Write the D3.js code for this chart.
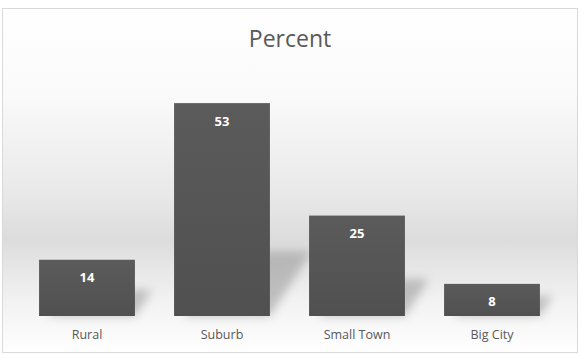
<!DOCTYPE html>
<html>
<head>
<meta charset="utf-8">
<script src="https://cdn.jsdelivr.net/npm/d3@7"></script>
<style>
  body { margin: 0; background: #fff; }
  svg { display: block; }
</style>
</head>
<body>
<div id="chart"></div>
<script>
// Percent by community type
const categories = ["Rural", "Suburb", "Small Town", "Big City"];
const percents = [14, 53, 25, 8];
const chartTitle = "Percent";

const W = 582, H = 354;
const frame = { left: 2, top: 8, right: 577, bottom: 352 };
const margin = { left: 19.5, right: 22.5, top: 75, bottom: 38 };
const baseY = H - margin.bottom;

const svg = d3.select("#chart").append("svg")
    .attr("width", W)
    .attr("height", H);

const defs = svg.append("defs");

// background "floor" gradient
const bg = defs.append("linearGradient")
    .attr("id", "bgGrad")
    .attr("x1", 0).attr("y1", 0).attr("x2", 0).attr("y2", 1);
[[0, "#ffffff"], [0.25, "#fafafa"], [0.55, "#e8e8e8"], [0.67, "#dcdcdc"], [0.85, "#f2f2f2"], [1, "#ffffff"]]
    .forEach(([o, c]) => bg.append("stop").attr("offset", o).attr("stop-color", c));

const barGrad = defs.append("linearGradient")
    .attr("id", "barGrad")
    .attr("x1", 0).attr("y1", 0).attr("x2", 0).attr("y2", 1);
barGrad.append("stop").attr("offset", 0).attr("stop-color", "#5b5b5b");
barGrad.append("stop").attr("offset", 1).attr("stop-color", "#505050");

defs.append("filter")
    .attr("id", "blur")
    .attr("x", "-50%").attr("y", "-50%").attr("width", "200%").attr("height", "200%")
    .append("feGaussianBlur")
    .attr("stdDeviation", 5);

svg.append("rect")
    .attr("x", frame.left + 0.5)
    .attr("y", frame.top + 0.5)
    .attr("width", frame.right - frame.left)
    .attr("height", frame.bottom - frame.top)
    .attr("fill", "url(#bgGrad)")
    .attr("stroke", "#d9d9d9")
    .attr("stroke-width", 1);

// title
svg.append("text")
    .attr("x", 290)
    .attr("y", 47)
    .attr("text-anchor", "middle")
    .attr("font-family", "'Open Sans', sans-serif")
    .attr("font-size", 23)
    .attr("fill", "#595959")
    .text(chartTitle);

const x = d3.scaleBand()
    .domain(categories)
    .range([margin.left, W - margin.right])
    .paddingInner(0.29)
    .paddingOuter(0.145);

const y = d3.scaleLinear()
    .domain([0, 60])
    .range([baseY, margin.top]);

const data = categories.map((c, i) => ({ cat: c, value: percents[i] }));

// soft perspective shadows behind bars
svg.append("g").selectAll("path")
    .data(data)
    .join("path")
    .attr("d", d => {
        const x0 = x(d.cat), x1 = x0 + x.bandwidth();
        const hs = (baseY - y(d.value)) * 0.25 + 12;
        const dx = hs * 0.65;
        return `M${x0 + 10},${baseY} L${x1},${baseY} L${x1 + dx},${baseY - hs} L${x0 + 10 + dx},${baseY - hs} Z`;
    })
    .attr("fill", "#8c8c8c")
    .attr("opacity", 0.5)
    .attr("filter", "url(#blur)");

svg.append("g").selectAll("rect")
    .data(data)
    .join("rect")
    .attr("x", d => x(d.cat))
    .attr("y", d => y(d.value))
    .attr("width", x.bandwidth())
    .attr("height", d => baseY - y(d.value))
    .attr("fill", "url(#barGrad)");

// value labels
svg.append("g").selectAll("text")
    .data(data)
    .join("text")
    .attr("x", d => x(d.cat) + x.bandwidth() / 2)
    .attr("y", d => y(d.value) + 22.5)
    .attr("text-anchor", "middle")
    .attr("font-family", "'Open Sans', sans-serif")
    .attr("font-weight", "bold")
    .attr("font-size", 13)
    .attr("fill", "#ffffff")
    .text(d => d.value);

// category axis
const xAxis = svg.append("g")
    .attr("transform", `translate(0,${baseY})`)
    .call(d3.axisBottom(x).tickSize(0).tickPadding(14));
xAxis.select(".domain").remove();
xAxis.selectAll("text")
    .attr("font-family", "'Open Sans', sans-serif")
    .attr("font-size", 12.5)
    .attr("fill", "#595959");
</script>
</body>
</html>
